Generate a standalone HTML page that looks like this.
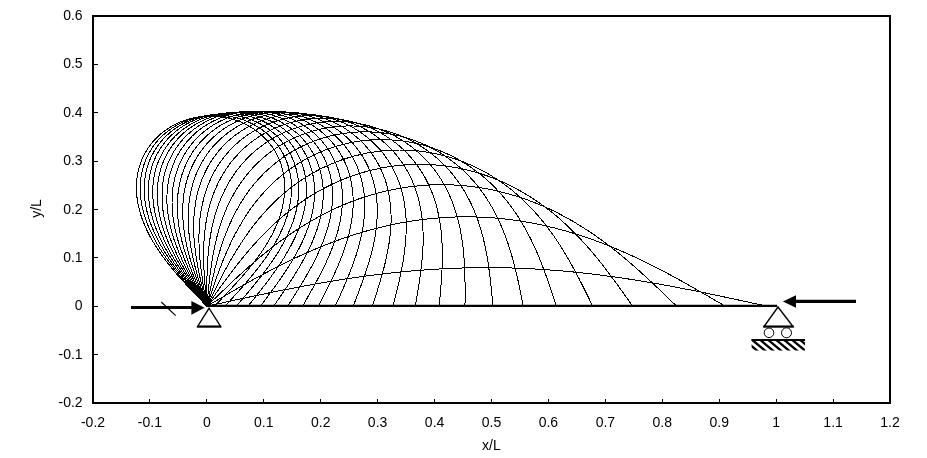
<!DOCTYPE html>
<html><head><meta charset="utf-8"><title>Elastica</title>
<style>
html,body{margin:0;padding:0;background:#fff}
svg{display:block}
text{font-family:"Liberation Sans",Arial,sans-serif;font-size:14px;fill:#000}
</style></head>
<body>
<svg width="927" height="458" viewBox="0 0 927 458">
<rect width="927" height="458" fill="#fff"/>
<defs>
<clipPath id="hc"><rect x="751.6" y="339" width="53.4" height="11.6"/></clipPath>
</defs>
<g fill="none" stroke="#000" stroke-width="1" stroke-linejoin="round" stroke-linecap="square" shape-rendering="crispEdges">
<polyline points="206.9,306.2 210.3,305.5 213.7,304.7 217.2,304.0 220.6,303.2 224.1,302.5 227.5,301.7 231.0,301.0 234.4,300.2 237.9,299.5 241.3,298.8 244.8,298.0 248.2,297.3 251.7,296.5 255.1,295.8 258.6,295.1 262.0,294.4 265.5,293.7 269.0,292.9 272.4,292.2 275.9,291.5 279.3,290.8 282.8,290.1 286.3,289.5 289.7,288.8 293.2,288.1 296.7,287.5 300.2,286.8 303.6,286.1 307.1,285.5 310.6,284.9 314.1,284.2 317.5,283.6 321.0,283.0 324.5,282.4 328.0,281.8 331.5,281.2 335.0,280.7 338.5,280.1 342.0,279.6 345.5,279.0 349.0,278.5 352.5,278.0 356.0,277.5 359.5,277.0 363.0,276.5 366.5,276.0 370.1,275.5 373.6,275.1 377.1,274.6 380.6,274.2 384.1,273.8 387.7,273.4 391.2,273.0 394.7,272.6 398.3,272.2 401.8,271.9 405.3,271.6 408.9,271.2 412.4,270.9 415.9,270.6 419.5,270.3 423.0,270.1 426.6,269.8 430.1,269.6 433.7,269.3 437.2,269.1 440.8,268.9 444.3,268.7 447.9,268.6 451.4,268.4 455.0,268.3 458.5,268.1 462.1,268.0 465.6,267.9 469.2,267.8 472.8,267.8 476.3,267.7 479.9,267.7 483.4,267.7 487.0,267.7 490.5,267.7 494.1,267.7 497.7,267.7 501.2,267.8 504.8,267.8 508.3,267.9 511.9,268.0 515.4,268.1 519.0,268.3 522.6,268.4 526.1,268.6 529.7,268.7 533.2,268.9 536.8,269.1 540.3,269.3 543.9,269.6 547.4,269.8 550.9,270.1 554.5,270.3 558.0,270.6 561.6,270.9 565.1,271.2 568.7,271.6 572.2,271.9 575.7,272.2 579.3,272.6 582.8,273.0 586.3,273.4 589.8,273.8 593.4,274.2 596.9,274.6 600.4,275.1 603.9,275.5 607.4,276.0 610.9,276.5 614.5,277.0 618.0,277.5 621.5,278.0 625.0,278.5 628.5,279.0 632.0,279.6 635.5,280.1 639.0,280.7 642.5,281.2 646.0,281.8 649.5,282.4 652.9,283.0 656.4,283.6 659.9,284.2 663.4,284.9 666.9,285.5 670.3,286.1 673.8,286.8 677.3,287.5 680.8,288.1 684.2,288.8 687.7,289.5 691.2,290.1 694.6,290.8 698.1,291.5 701.6,292.2 705.0,292.9 708.5,293.7 711.9,294.4 715.4,295.1 718.8,295.8 722.3,296.5 725.7,297.3 729.2,298.0 732.6,298.8 736.1,299.5 739.5,300.2 743.0,301.0 746.4,301.7 749.9,302.5 753.3,303.2 756.8,304.0 760.2,304.7 763.7,305.5 767.1,306.3"/>
<polyline points="206.9,306.2 209.8,304.5 212.7,302.8 215.6,301.1 218.6,299.4 221.5,297.7 224.5,296.0 227.4,294.3 230.3,292.6 233.3,290.9 236.2,289.2 239.2,287.5 242.1,285.8 245.1,284.2 248.1,282.5 251.1,280.8 254.0,279.2 257.0,277.6 260.0,275.9 263.0,274.3 266.1,272.7 269.1,271.1 272.1,269.5 275.2,268.0 278.2,266.4 281.3,264.9 284.3,263.3 287.4,261.8 290.5,260.3 293.6,258.8 296.7,257.4 299.8,255.9 303.0,254.5 306.1,253.1 309.3,251.7 312.4,250.3 315.6,249.0 318.8,247.6 322.0,246.3 325.2,245.0 328.5,243.8 331.7,242.5 335.0,241.3 338.2,240.1 341.5,238.9 344.8,237.8 348.1,236.7 351.4,235.6 354.8,234.5 358.1,233.5 361.5,232.4 364.8,231.5 368.2,230.5 371.6,229.6 375.0,228.7 378.4,227.8 381.8,227.0 385.2,226.2 388.7,225.4 392.1,224.6 395.6,223.9 399.0,223.2 402.5,222.6 406.0,222.0 409.5,221.4 413.0,220.9 416.5,220.3 420.0,219.9 423.5,219.4 427.1,219.0 430.6,218.6 434.1,218.3 437.7,218.0 441.2,217.7 444.8,217.5 448.3,217.3 451.9,217.1 455.4,217.0 459.0,216.9 462.5,216.9 466.1,216.8 469.6,216.9 473.2,216.9 476.8,217.0 480.3,217.1 483.9,217.3 487.4,217.5 491.0,217.7 494.5,218.0 498.1,218.3 501.6,218.6 505.1,219.0 508.6,219.4 512.2,219.9 515.7,220.3 519.2,220.9 522.7,221.4 526.2,222.0 529.7,222.6 533.1,223.2 536.6,223.9 540.1,224.6 543.5,225.4 546.9,226.2 550.4,227.0 553.8,227.8 557.2,228.7 560.6,229.6 564.0,230.5 567.4,231.5 570.7,232.4 574.1,233.5 577.4,234.5 580.7,235.6 584.1,236.7 587.4,237.8 590.7,238.9 593.9,240.1 597.2,241.3 600.5,242.5 603.7,243.8 606.9,245.0 610.1,246.3 613.4,247.6 616.5,249.0 619.7,250.3 622.9,251.7 626.1,253.1 629.2,254.5 632.3,255.9 635.5,257.4 638.6,258.8 641.7,260.3 644.8,261.8 647.8,263.3 650.9,264.9 654.0,266.4 657.0,268.0 660.1,269.5 663.1,271.1 666.1,272.7 669.1,274.3 672.1,275.9 675.1,277.6 678.1,279.2 681.1,280.8 684.1,282.5 687.1,284.2 690.0,285.8 693.0,287.5 695.9,289.2 698.9,290.9 701.8,292.6 704.8,294.3 707.7,296.0 710.7,297.7 713.6,299.4 716.5,301.1 719.5,302.8 722.4,304.5 725.3,306.3"/>
<polyline points="206.9,306.2 209.2,304.0 211.5,301.7 213.9,299.4 216.2,297.2 218.6,294.9 220.9,292.6 223.3,290.4 225.7,288.1 228.0,285.8 230.4,283.6 232.8,281.4 235.2,279.1 237.6,276.9 240.0,274.7 242.5,272.5 244.9,270.3 247.4,268.1 249.8,265.9 252.3,263.7 254.8,261.6 257.3,259.5 259.9,257.3 262.4,255.2 265.0,253.1 267.6,251.0 270.2,249.0 272.8,246.9 275.4,244.9 278.1,242.9 280.8,240.9 283.5,239.0 286.2,237.0 288.9,235.1 291.7,233.2 294.5,231.3 297.3,229.5 300.2,227.7 303.0,225.9 305.9,224.1 308.8,222.3 311.8,220.6 314.7,219.0 317.7,217.3 320.7,215.7 323.7,214.1 326.8,212.5 329.9,211.0 333.0,209.5 336.1,208.1 339.2,206.7 342.4,205.3 345.6,204.0 348.8,202.7 352.0,201.4 355.3,200.2 358.6,199.0 361.9,197.9 365.2,196.8 368.5,195.8 371.9,194.8 375.3,193.8 378.7,192.9 382.1,192.0 385.5,191.2 388.9,190.4 392.4,189.7 395.8,189.0 399.3,188.4 402.8,187.8 406.3,187.3 409.8,186.8 413.4,186.4 416.9,186.0 420.4,185.6 424.0,185.4 427.5,185.1 431.1,184.9 434.6,184.8 438.2,184.7 441.7,184.7 445.3,184.7 448.8,184.8 452.4,184.9 456.0,185.1 459.5,185.4 463.0,185.6 466.6,186.0 470.1,186.4 473.6,186.8 477.1,187.3 480.6,187.8 484.1,188.4 487.6,189.0 491.1,189.7 494.5,190.4 498.0,191.2 501.4,192.0 504.8,192.9 508.2,193.8 511.6,194.8 514.9,195.8 518.3,196.8 521.6,197.9 524.9,199.0 528.2,200.2 531.4,201.4 534.7,202.7 537.9,204.0 541.1,205.3 544.2,206.7 547.4,208.1 550.5,209.5 553.6,211.0 556.7,212.5 559.7,214.1 562.8,215.7 565.8,217.3 568.7,219.0 571.7,220.6 574.6,222.3 577.5,224.1 580.4,225.9 583.3,227.7 586.1,229.5 589.0,231.3 591.7,233.2 594.5,235.1 597.3,237.0 600.0,239.0 602.7,240.9 605.4,242.9 608.0,244.9 610.7,246.9 613.3,249.0 615.9,251.0 618.5,253.1 621.1,255.2 623.6,257.3 626.1,259.5 628.6,261.6 631.1,263.7 633.6,265.9 636.1,268.1 638.6,270.3 641.0,272.5 643.4,274.7 645.8,276.9 648.3,279.1 650.7,281.4 653.0,283.6 655.4,285.8 657.8,288.1 660.2,290.4 662.5,292.6 664.9,294.9 667.2,297.2 669.6,299.4 671.9,301.7 674.3,304.0 676.6,306.3"/>
<polyline points="206.9,306.2 208.7,303.7 210.5,301.1 212.3,298.5 214.2,295.9 216.0,293.3 217.8,290.7 219.7,288.1 221.6,285.5 223.4,283.0 225.3,280.4 227.2,277.8 229.1,275.3 231.0,272.7 232.9,270.2 234.9,267.7 236.8,265.1 238.8,262.6 240.8,260.1 242.8,257.6 244.9,255.1 246.9,252.7 249.0,250.2 251.1,247.8 253.2,245.4 255.4,243.0 257.6,240.6 259.8,238.2 262.0,235.9 264.3,233.5 266.6,231.2 268.9,228.9 271.3,226.7 273.7,224.4 276.1,222.2 278.5,220.0 281.0,217.8 283.5,215.7 286.1,213.6 288.6,211.5 291.3,209.5 293.9,207.4 296.6,205.4 299.3,203.5 302.1,201.6 304.8,199.7 307.7,197.9 310.5,196.0 313.4,194.3 316.3,192.6 319.3,190.9 322.3,189.2 325.3,187.6 328.3,186.1 331.4,184.6 334.5,183.1 337.7,181.7 340.8,180.3 344.1,179.0 347.3,177.7 350.5,176.5 353.8,175.4 357.1,174.3 360.5,173.2 363.8,172.2 367.2,171.3 370.6,170.4 374.0,169.6 377.5,168.8 380.9,168.1 384.4,167.4 387.9,166.9 391.4,166.3 394.9,165.9 398.5,165.5 402.0,165.1 405.5,164.8 409.1,164.6 412.6,164.5 416.2,164.4 419.7,164.3 423.3,164.4 426.9,164.5 430.4,164.6 434.0,164.8 437.5,165.1 441.0,165.5 444.6,165.9 448.1,166.3 451.6,166.9 455.1,167.4 458.6,168.1 462.0,168.8 465.5,169.6 468.9,170.4 472.3,171.3 475.7,172.2 479.0,173.2 482.4,174.3 485.7,175.4 489.0,176.5 492.2,177.7 495.4,179.0 498.6,180.3 501.8,181.7 505.0,183.1 508.1,184.6 511.2,186.1 514.2,187.6 517.2,189.2 520.2,190.9 523.2,192.6 526.1,194.3 529.0,196.0 531.8,197.9 534.7,199.7 537.4,201.6 540.2,203.5 542.9,205.4 545.6,207.4 548.2,209.5 550.9,211.5 553.4,213.6 556.0,215.7 558.5,217.8 561.0,220.0 563.4,222.2 565.8,224.4 568.2,226.7 570.6,228.9 572.9,231.2 575.2,233.5 577.5,235.9 579.7,238.2 581.9,240.6 584.1,243.0 586.2,245.4 588.4,247.8 590.5,250.2 592.6,252.7 594.6,255.1 596.7,257.6 598.7,260.1 600.7,262.6 602.7,265.1 604.6,267.7 606.6,270.2 608.5,272.7 610.4,275.3 612.3,277.8 614.2,280.4 616.1,283.0 617.9,285.5 619.8,288.1 621.6,290.7 623.5,293.3 625.3,295.9 627.2,298.5 629.0,301.1 630.8,303.7 632.6,306.3"/>
<polyline points="206.9,306.2 208.2,303.5 209.6,300.7 211.0,297.9 212.3,295.1 213.7,292.3 215.1,289.5 216.5,286.7 217.9,284.0 219.3,281.2 220.8,278.4 222.2,275.7 223.7,272.9 225.1,270.1 226.6,267.4 228.1,264.7 229.7,261.9 231.2,259.2 232.8,256.5 234.4,253.8 236.0,251.1 237.7,248.4 239.4,245.8 241.1,243.1 242.8,240.5 244.6,237.9 246.4,235.3 248.2,232.7 250.1,230.1 252.0,227.5 253.9,225.0 255.9,222.5 257.9,220.0 260.0,217.5 262.1,215.1 264.2,212.7 266.4,210.3 268.6,207.9 270.9,205.6 273.2,203.3 275.5,201.0 277.9,198.7 280.3,196.5 282.8,194.4 285.3,192.2 287.8,190.1 290.4,188.0 293.1,186.0 295.8,184.0 298.5,182.1 301.3,180.2 304.1,178.4 306.9,176.6 309.8,174.8 312.8,173.1 315.8,171.4 318.8,169.8 321.8,168.3 324.9,166.8 328.1,165.4 331.2,164.0 334.4,162.7 337.7,161.4 340.9,160.2 344.2,159.1 347.6,158.0 350.9,157.0 354.3,156.0 357.7,155.2 361.1,154.4 364.6,153.6 368.0,152.9 371.5,152.3 375.0,151.8 378.5,151.3 382.1,150.9 385.6,150.6 389.2,150.4 392.7,150.2 396.3,150.1 399.8,150.0 403.4,150.1 406.9,150.2 410.5,150.4 414.0,150.6 417.6,150.9 421.1,151.3 424.6,151.8 428.1,152.3 431.6,152.9 435.1,153.6 438.5,154.4 441.9,155.2 445.3,156.0 448.7,157.0 452.1,158.0 455.4,159.1 458.7,160.2 462.0,161.4 465.2,162.7 468.4,164.0 471.6,165.4 474.7,166.8 477.8,168.3 480.9,169.8 483.9,171.4 486.9,173.1 489.8,174.8 492.7,176.6 495.5,178.4 498.4,180.2 501.1,182.1 503.9,184.0 506.6,186.0 509.2,188.0 511.8,190.1 514.3,192.2 516.9,194.4 519.3,196.5 521.8,198.7 524.1,201.0 526.5,203.3 528.8,205.6 531.0,207.9 533.3,210.3 535.4,212.7 537.6,215.1 539.6,217.5 541.7,220.0 543.7,222.5 545.7,225.0 547.6,227.5 549.5,230.1 551.4,232.7 553.3,235.3 555.1,237.9 556.8,240.5 558.6,243.1 560.3,245.8 562.0,248.4 563.6,251.1 565.2,253.8 566.8,256.5 568.4,259.2 570.0,261.9 571.5,264.7 573.0,267.4 574.5,270.1 576.0,272.9 577.4,275.7 578.9,278.4 580.3,281.2 581.7,284.0 583.1,286.7 584.5,289.5 585.9,292.3 587.3,295.1 588.7,297.9 590.0,300.7 591.4,303.5 592.8,306.3"/>
<polyline points="206.9,306.2 207.8,303.3 208.8,300.4 209.7,297.5 210.7,294.6 211.7,291.7 212.7,288.8 213.7,285.9 214.7,283.0 215.7,280.1 216.7,277.2 217.8,274.3 218.8,271.4 219.9,268.5 221.0,265.7 222.1,262.8 223.3,259.9 224.5,257.1 225.7,254.2 226.9,251.4 228.1,248.6 229.4,245.8 230.7,242.9 232.1,240.1 233.5,237.4 234.9,234.6 236.4,231.8 237.9,229.1 239.4,226.4 241.0,223.7 242.6,221.0 244.3,218.3 246.0,215.6 247.7,213.0 249.5,210.4 251.3,207.8 253.2,205.2 255.2,202.7 257.2,200.2 259.2,197.7 261.3,195.3 263.4,192.9 265.6,190.5 267.9,188.1 270.1,185.8 272.5,183.5 274.9,181.3 277.3,179.1 279.8,177.0 282.4,174.8 285.0,172.8 287.6,170.8 290.3,168.8 293.1,166.9 295.9,165.0 298.7,163.2 301.6,161.5 304.6,159.8 307.6,158.1 310.6,156.5 313.7,155.0 316.8,153.6 320.0,152.2 323.2,150.9 326.4,149.6 329.7,148.4 333.0,147.3 336.3,146.3 339.7,145.3 343.1,144.4 346.5,143.6 350.0,142.8 353.4,142.1 356.9,141.6 360.4,141.0 363.9,140.6 367.5,140.2 371.0,140.0 374.6,139.8 378.1,139.6 381.7,139.6 385.2,139.6 388.8,139.8 392.3,140.0 395.9,140.2 399.4,140.6 402.9,141.0 406.4,141.6 409.9,142.1 413.4,142.8 416.8,143.6 420.3,144.4 423.7,145.3 427.0,146.3 430.4,147.3 433.7,148.4 437.0,149.6 440.2,150.9 443.4,152.2 446.6,153.6 449.7,155.0 452.7,156.5 455.8,158.1 458.8,159.8 461.7,161.5 464.6,163.2 467.5,165.0 470.3,166.9 473.0,168.8 475.7,170.8 478.4,172.8 481.0,174.8 483.5,177.0 486.0,179.1 488.5,181.3 490.9,183.5 493.2,185.8 495.5,188.1 497.7,190.5 499.9,192.9 502.1,195.3 504.1,197.7 506.2,200.2 508.2,202.7 510.1,205.2 512.0,207.8 513.8,210.4 515.6,213.0 517.4,215.6 519.1,218.3 520.8,221.0 522.4,223.7 524.0,226.4 525.5,229.1 527.0,231.8 528.4,234.6 529.9,237.4 531.3,240.1 532.6,242.9 533.9,245.8 535.2,248.6 536.5,251.4 537.7,254.2 538.9,257.1 540.1,259.9 541.2,262.8 542.3,265.7 543.4,268.5 544.5,271.4 545.6,274.3 546.6,277.2 547.7,280.1 548.7,283.0 549.7,285.9 550.7,288.8 551.7,291.7 552.6,294.6 553.6,297.5 554.6,300.4 555.5,303.3 556.5,306.3"/>
<polyline points="206.9,306.2 207.5,303.3 208.1,300.3 208.7,297.3 209.3,294.3 209.9,291.4 210.5,288.4 211.1,285.4 211.8,282.4 212.4,279.5 213.1,276.5 213.8,273.5 214.5,270.6 215.2,267.6 216.0,264.6 216.8,261.7 217.6,258.7 218.4,255.8 219.3,252.9 220.2,249.9 221.1,247.0 222.0,244.1 223.0,241.2 224.0,238.3 225.1,235.4 226.2,232.6 227.4,229.7 228.5,226.8 229.8,224.0 231.1,221.2 232.4,218.4 233.8,215.6 235.2,212.8 236.6,210.1 238.2,207.3 239.7,204.6 241.4,201.9 243.1,199.3 244.8,196.6 246.6,194.0 248.4,191.4 250.3,188.9 252.3,186.4 254.3,183.9 256.4,181.4 258.6,179.0 260.8,176.6 263.0,174.3 265.3,172.0 267.7,169.8 270.2,167.6 272.7,165.4 275.2,163.3 277.8,161.3 280.5,159.3 283.2,157.3 286.0,155.4 288.8,153.6 291.7,151.8 294.7,150.1 297.7,148.5 300.7,146.9 303.8,145.4 306.9,144.0 310.1,142.7 313.3,141.4 316.6,140.2 319.9,139.0 323.2,138.0 326.6,137.0 330.0,136.1 333.4,135.3 336.9,134.6 340.4,133.9 343.9,133.4 347.4,132.9 350.9,132.5 354.4,132.2 358.0,132.0 361.5,131.8 365.1,131.8 368.7,131.8 372.2,132.0 375.8,132.2 379.3,132.5 382.8,132.9 386.3,133.4 389.8,133.9 393.3,134.6 396.8,135.3 400.2,136.1 403.6,137.0 407.0,138.0 410.3,139.0 413.6,140.2 416.9,141.4 420.1,142.7 423.3,144.0 426.4,145.4 429.5,146.9 432.5,148.5 435.5,150.1 438.5,151.8 441.3,153.6 444.2,155.4 447.0,157.3 449.7,159.3 452.4,161.3 455.0,163.3 457.5,165.4 460.0,167.6 462.5,169.8 464.8,172.0 467.2,174.3 469.4,176.6 471.6,179.0 473.8,181.4 475.9,183.9 477.9,186.4 479.8,188.9 481.8,191.4 483.6,194.0 485.4,196.6 487.1,199.3 488.8,201.9 490.4,204.6 492.0,207.3 493.5,210.1 495.0,212.8 496.4,215.6 497.8,218.4 499.1,221.2 500.4,224.0 501.6,226.8 502.8,229.7 504.0,232.6 505.1,235.4 506.1,238.3 507.2,241.2 508.2,244.1 509.1,247.0 510.0,249.9 510.9,252.9 511.8,255.8 512.6,258.7 513.4,261.7 514.2,264.6 514.9,267.6 515.7,270.6 516.4,273.5 517.1,276.5 517.8,279.5 518.4,282.4 519.1,285.4 519.7,288.4 520.3,291.4 520.9,294.3 521.5,297.3 522.1,300.3 522.7,303.3 523.3,306.3"/>
<polyline points="206.9,306.2 207.1,303.2 207.4,300.2 207.7,297.2 208.0,294.2 208.3,291.2 208.6,288.2 208.9,285.2 209.2,282.1 209.5,279.1 209.9,276.1 210.2,273.1 210.6,270.1 211.1,267.1 211.5,264.1 212.0,261.1 212.4,258.1 213.0,255.1 213.5,252.1 214.1,249.2 214.7,246.2 215.4,243.2 216.1,240.2 216.8,237.3 217.6,234.3 218.4,231.4 219.2,228.5 220.2,225.5 221.1,222.6 222.1,219.7 223.2,216.8 224.3,214.0 225.4,211.1 226.6,208.3 227.9,205.4 229.2,202.6 230.6,199.8 232.1,197.1 233.6,194.3 235.1,191.6 236.8,188.9 238.5,186.3 240.2,183.7 242.0,181.1 243.9,178.5 245.9,176.0 247.9,173.5 250.0,171.0 252.1,168.6 254.4,166.3 256.7,163.9 259.0,161.7 261.4,159.5 263.9,157.3 266.4,155.2 269.1,153.1 271.7,151.1 274.5,149.2 277.3,147.3 280.1,145.5 283.0,143.8 286.0,142.1 289.0,140.5 292.1,139.0 295.2,137.5 298.4,136.2 301.6,134.9 304.9,133.7 308.2,132.5 311.5,131.5 314.9,130.5 318.3,129.7 321.7,128.9 325.2,128.2 328.7,127.6 332.2,127.1 335.7,126.7 339.2,126.3 342.8,126.1 346.3,126.0 349.9,125.9 353.4,126.0 357.0,126.1 360.5,126.3 364.1,126.7 367.6,127.1 371.1,127.6 374.6,128.2 378.1,128.9 381.5,129.7 384.9,130.5 388.3,131.5 391.6,132.5 394.9,133.7 398.2,134.9 401.4,136.2 404.6,137.5 407.7,139.0 410.8,140.5 413.8,142.1 416.8,143.8 419.7,145.5 422.5,147.3 425.3,149.2 428.1,151.1 430.7,153.1 433.3,155.2 435.9,157.3 438.4,159.5 440.8,161.7 443.1,163.9 445.4,166.3 447.6,168.6 449.8,171.0 451.9,173.5 453.9,176.0 455.8,178.5 457.7,181.1 459.6,183.7 461.3,186.3 463.0,188.9 464.6,191.6 466.2,194.3 467.7,197.1 469.2,199.8 470.5,202.6 471.9,205.4 473.1,208.3 474.4,211.1 475.5,214.0 476.6,216.8 477.7,219.7 478.7,222.6 479.6,225.5 480.5,228.5 481.4,231.4 482.2,234.3 483.0,237.3 483.7,240.2 484.4,243.2 485.1,246.2 485.7,249.2 486.3,252.1 486.8,255.1 487.3,258.1 487.8,261.1 488.3,264.1 488.7,267.1 489.1,270.1 489.5,273.1 489.9,276.1 490.3,279.1 490.6,282.1 490.9,285.2 491.2,288.2 491.5,291.2 491.8,294.2 492.1,297.2 492.4,300.2 492.7,303.2 492.9,306.3"/>
<polyline points="206.9,306.2 206.8,303.2 206.8,300.2 206.8,297.2 206.8,294.2 206.8,291.1 206.8,288.1 206.8,285.1 206.9,282.1 206.9,279.0 207.0,276.0 207.0,273.0 207.2,270.0 207.3,267.0 207.4,263.9 207.6,260.9 207.8,257.9 208.1,254.9 208.3,251.9 208.6,248.8 209.0,245.8 209.4,242.8 209.8,239.8 210.3,236.8 210.8,233.8 211.3,230.9 211.9,227.9 212.6,224.9 213.3,221.9 214.0,219.0 214.8,216.0 215.7,213.1 216.6,210.2 217.6,207.3 218.6,204.4 219.7,201.5 220.9,198.6 222.1,195.8 223.4,193.0 224.7,190.2 226.2,187.4 227.6,184.7 229.2,182.0 230.8,179.3 232.5,176.6 234.3,174.0 236.2,171.4 238.1,168.9 240.1,166.4 242.1,163.9 244.3,161.5 246.5,159.1 248.8,156.8 251.1,154.5 253.6,152.3 256.1,150.2 258.6,148.1 261.3,146.1 264.0,144.1 266.7,142.2 269.6,140.4 272.5,138.6 275.4,136.9 278.4,135.3 281.5,133.8 284.6,132.3 287.8,131.0 291.0,129.7 294.3,128.5 297.6,127.4 301.0,126.4 304.3,125.4 307.8,124.6 311.2,123.9 314.7,123.2 318.2,122.7 321.7,122.3 325.2,121.9 328.8,121.7 332.3,121.5 335.9,121.5 339.5,121.5 343.0,121.7 346.6,121.9 350.1,122.3 353.6,122.7 357.1,123.2 360.6,123.9 364.0,124.6 367.5,125.4 370.8,126.4 374.2,127.4 377.5,128.5 380.8,129.7 384.0,131.0 387.2,132.3 390.3,133.8 393.4,135.3 396.4,136.9 399.3,138.6 402.2,140.4 405.1,142.2 407.8,144.1 410.5,146.1 413.2,148.1 415.7,150.2 418.2,152.3 420.7,154.5 423.0,156.8 425.3,159.1 427.5,161.5 429.7,163.9 431.7,166.4 433.7,168.9 435.6,171.4 437.5,174.0 439.3,176.6 441.0,179.3 442.6,182.0 444.2,184.7 445.7,187.4 447.1,190.2 448.4,193.0 449.7,195.8 450.9,198.6 452.1,201.5 453.2,204.4 454.2,207.3 455.2,210.2 456.1,213.1 457.0,216.0 457.8,219.0 458.5,221.9 459.2,224.9 459.9,227.9 460.5,230.9 461.0,233.8 461.6,236.8 462.0,239.8 462.4,242.8 462.8,245.8 463.2,248.8 463.5,251.9 463.7,254.9 464.0,257.9 464.2,260.9 464.4,263.9 464.5,267.0 464.6,270.0 464.8,273.0 464.8,276.0 464.9,279.0 465.0,282.1 465.0,285.1 465.0,288.1 465.0,291.1 465.0,294.2 465.0,297.2 465.0,300.2 465.0,303.2 464.9,306.3"/>
<polyline points="206.9,306.2 206.6,303.2 206.3,300.2 206.0,297.2 205.7,294.2 205.5,291.2 205.2,288.2 205.0,285.1 204.7,282.1 204.5,279.1 204.3,276.1 204.2,273.1 204.0,270.1 203.9,267.0 203.8,264.0 203.7,261.0 203.7,258.0 203.6,254.9 203.7,251.9 203.7,248.9 203.8,245.9 203.9,242.8 204.1,239.8 204.3,236.8 204.6,233.8 204.9,230.8 205.3,227.8 205.7,224.8 206.1,221.8 206.6,218.8 207.2,215.8 207.8,212.8 208.5,209.9 209.3,206.9 210.1,204.0 211.0,201.0 212.0,198.1 213.0,195.2 214.1,192.3 215.2,189.5 216.5,186.7 217.8,183.8 219.1,181.1 220.6,178.3 222.1,175.6 223.7,172.9 225.4,170.2 227.2,167.6 229.0,165.0 230.9,162.4 232.9,159.9 235.0,157.5 237.2,155.1 239.4,152.7 241.7,150.4 244.1,148.2 246.6,146.0 249.1,143.9 251.7,141.9 254.4,139.9 257.2,138.0 260.0,136.1 262.9,134.4 265.8,132.7 268.9,131.1 271.9,129.5 275.1,128.1 278.3,126.8 281.5,125.5 284.8,124.4 288.1,123.3 291.5,122.3 294.9,121.4 298.3,120.7 301.8,120.0 305.3,119.4 308.8,119.0 312.3,118.6 315.9,118.3 319.4,118.2 323.0,118.1 326.5,118.2 330.1,118.3 333.6,118.6 337.2,119.0 340.7,119.4 344.2,120.0 347.7,120.7 351.1,121.4 354.5,122.3 357.9,123.3 361.2,124.4 364.5,125.5 367.7,126.8 370.9,128.1 374.0,129.5 377.1,131.1 380.1,132.7 383.1,134.4 386.0,136.1 388.8,138.0 391.6,139.9 394.2,141.9 396.9,143.9 399.4,146.0 401.9,148.2 404.3,150.4 406.6,152.7 408.8,155.1 411.0,157.5 413.0,159.9 415.0,162.4 417.0,165.0 418.8,167.6 420.6,170.2 422.2,172.9 423.9,175.6 425.4,178.3 426.8,181.1 428.2,183.8 429.5,186.7 430.8,189.5 431.9,192.3 433.0,195.2 434.0,198.1 435.0,201.0 435.9,204.0 436.7,206.9 437.4,209.9 438.1,212.8 438.8,215.8 439.3,218.8 439.9,221.8 440.3,224.8 440.7,227.8 441.1,230.8 441.4,233.8 441.7,236.8 441.9,239.8 442.0,242.8 442.2,245.9 442.3,248.9 442.3,251.9 442.3,254.9 442.3,258.0 442.3,261.0 442.2,264.0 442.1,267.0 442.0,270.1 441.8,273.1 441.6,276.1 441.4,279.1 441.2,282.1 441.0,285.1 440.8,288.2 440.5,291.2 440.2,294.2 440.0,297.2 439.7,300.2 439.4,303.2 439.1,306.3"/>
<polyline points="206.9,306.2 206.3,303.3 205.8,300.3 205.3,297.3 204.8,294.3 204.3,291.3 203.8,288.3 203.3,285.3 202.8,282.3 202.4,279.3 202.0,276.3 201.6,273.3 201.2,270.3 200.8,267.3 200.5,264.3 200.1,261.3 199.9,258.3 199.6,255.2 199.4,252.2 199.2,249.2 199.1,246.2 199.0,243.2 198.9,240.1 198.9,237.1 199.0,234.1 199.1,231.1 199.2,228.0 199.4,225.0 199.6,222.0 199.9,219.0 200.3,216.0 200.7,213.0 201.2,210.0 201.8,207.0 202.4,204.0 203.1,201.1 203.8,198.1 204.6,195.2 205.5,192.2 206.5,189.3 207.6,186.4 208.7,183.6 209.9,180.7 211.2,177.9 212.6,175.1 214.0,172.4 215.5,169.6 217.2,166.9 218.9,164.3 220.6,161.7 222.5,159.1 224.5,156.6 226.5,154.1 228.6,151.7 230.8,149.3 233.1,147.0 235.5,144.7 237.9,142.5 240.4,140.4 243.1,138.3 245.7,136.3 248.5,134.4 251.3,132.6 254.2,130.8 257.2,129.2 260.2,127.6 263.3,126.1 266.5,124.7 269.7,123.4 272.9,122.2 276.2,121.1 279.6,120.0 283.0,119.1 286.4,118.3 289.9,117.6 293.3,117.0 296.9,116.5 300.4,116.1 303.9,115.9 307.5,115.7 311.0,115.6 314.6,115.7 318.1,115.9 321.7,116.1 325.2,116.5 328.7,117.0 332.2,117.6 335.7,118.3 339.1,119.1 342.5,120.0 345.8,121.1 349.2,122.2 352.4,123.4 355.6,124.7 358.8,126.1 361.9,127.6 364.9,129.2 367.9,130.8 370.8,132.6 373.6,134.4 376.3,136.3 379.0,138.3 381.6,140.4 384.2,142.5 386.6,144.7 389.0,147.0 391.3,149.3 393.5,151.7 395.6,154.1 397.6,156.6 399.6,159.1 401.4,161.7 403.2,164.3 404.9,166.9 406.5,169.6 408.1,172.4 409.5,175.1 410.9,177.9 412.2,180.7 413.4,183.6 414.5,186.4 415.6,189.3 416.5,192.2 417.4,195.2 418.3,198.1 419.0,201.1 419.7,204.0 420.3,207.0 420.9,210.0 421.4,213.0 421.8,216.0 422.1,219.0 422.4,222.0 422.7,225.0 422.9,228.0 423.0,231.1 423.1,234.1 423.1,237.1 423.1,240.1 423.1,243.2 423.0,246.2 422.8,249.2 422.7,252.2 422.5,255.2 422.2,258.3 421.9,261.3 421.6,264.3 421.3,267.3 420.9,270.3 420.5,273.3 420.1,276.3 419.7,279.3 419.2,282.3 418.8,285.3 418.3,288.3 417.8,291.3 417.3,294.3 416.8,297.3 416.3,300.3 415.7,303.3 415.2,306.3"/>
<polyline points="206.9,306.2 206.1,303.3 205.4,300.3 204.6,297.4 203.9,294.4 203.2,291.5 202.5,288.5 201.8,285.5 201.1,282.6 200.5,279.6 199.8,276.6 199.2,273.6 198.6,270.7 198.0,267.7 197.4,264.7 196.9,261.7 196.4,258.7 196.0,255.7 195.5,252.7 195.2,249.7 194.8,246.7 194.5,243.7 194.2,240.7 194.0,237.6 193.9,234.6 193.7,231.6 193.7,228.6 193.7,225.6 193.7,222.5 193.8,219.5 194.0,216.5 194.2,213.5 194.5,210.5 194.9,207.5 195.3,204.5 195.8,201.5 196.4,198.5 197.0,195.5 197.7,192.5 198.5,189.6 199.4,186.7 200.4,183.8 201.4,180.9 202.5,178.0 203.8,175.2 205.1,172.3 206.4,169.6 207.9,166.8 209.5,164.1 211.1,161.4 212.9,158.8 214.7,156.2 216.6,153.6 218.6,151.1 220.7,148.7 222.9,146.3 225.2,144.0 227.5,141.7 230.0,139.5 232.5,137.4 235.1,135.4 237.8,133.4 240.6,131.5 243.4,129.7 246.4,127.9 249.3,126.3 252.4,124.7 255.5,123.3 258.7,121.9 261.9,120.6 265.2,119.5 268.5,118.4 271.9,117.5 275.3,116.6 278.8,115.9 282.3,115.3 285.8,114.8 289.3,114.4 292.8,114.1 296.4,113.9 299.9,113.8 303.5,113.9 307.1,114.1 310.6,114.4 314.1,114.8 317.6,115.3 321.1,115.9 324.6,116.6 328.0,117.5 331.4,118.4 334.7,119.5 338.0,120.6 341.2,121.9 344.4,123.3 347.5,124.7 350.6,126.3 353.5,127.9 356.5,129.7 359.3,131.5 362.1,133.4 364.8,135.4 367.4,137.4 369.9,139.5 372.3,141.7 374.7,144.0 377.0,146.3 379.2,148.7 381.3,151.1 383.3,153.6 385.2,156.2 387.0,158.8 388.8,161.4 390.4,164.1 392.0,166.8 393.5,169.6 394.8,172.3 396.1,175.2 397.4,178.0 398.5,180.9 399.5,183.8 400.5,186.7 401.4,189.6 402.2,192.5 402.9,195.5 403.5,198.5 404.1,201.5 404.6,204.5 405.0,207.5 405.4,210.5 405.7,213.5 405.9,216.5 406.1,219.5 406.2,222.5 406.2,225.6 406.2,228.6 406.2,231.6 406.0,234.6 405.9,237.6 405.7,240.7 405.4,243.7 405.1,246.7 404.7,249.7 404.4,252.7 403.9,255.7 403.5,258.7 403.0,261.7 402.5,264.7 401.9,267.7 401.3,270.7 400.7,273.6 400.1,276.6 399.4,279.6 398.8,282.6 398.1,285.5 397.4,288.5 396.7,291.5 396.0,294.4 395.2,297.4 394.5,300.3 393.8,303.3 393.0,306.3"/>
<polyline points="206.9,306.2 205.9,303.3 205.0,300.4 204.1,297.5 203.1,294.6 202.2,291.7 201.3,288.7 200.4,285.8 199.5,282.9 198.7,279.9 197.8,277.0 197.0,274.1 196.2,271.1 195.4,268.2 194.7,265.2 194.0,262.2 193.3,259.3 192.6,256.3 192.0,253.3 191.4,250.3 190.9,247.4 190.4,244.4 190.0,241.4 189.5,238.4 189.2,235.4 188.9,232.3 188.6,229.3 188.4,226.3 188.3,223.3 188.2,220.3 188.2,217.2 188.2,214.2 188.3,211.2 188.5,208.2 188.8,205.2 189.1,202.2 189.5,199.1 190.0,196.2 190.5,193.2 191.2,190.2 191.9,187.2 192.7,184.3 193.6,181.4 194.6,178.5 195.6,175.6 196.8,172.7 198.0,169.9 199.4,167.1 200.8,164.3 202.3,161.6 204.0,158.9 205.7,156.2 207.5,153.6 209.4,151.1 211.4,148.6 213.5,146.1 215.7,143.7 217.9,141.4 220.3,139.2 222.8,137.0 225.3,134.9 227.9,132.8 230.6,130.9 233.4,129.0 236.3,127.2 239.2,125.5 242.3,123.9 245.3,122.4 248.5,121.0 251.7,119.7 255.0,118.5 258.3,117.4 261.6,116.4 265.0,115.5 268.5,114.7 272.0,114.1 275.5,113.6 279.0,113.1 282.5,112.8 286.1,112.7 289.6,112.6 293.2,112.7 296.7,112.8 300.3,113.1 303.8,113.6 307.3,114.1 310.8,114.7 314.2,115.5 317.6,116.4 321.0,117.4 324.3,118.5 327.6,119.7 330.8,121.0 333.9,122.4 337.0,123.9 340.0,125.5 343.0,127.2 345.8,129.0 348.6,130.9 351.3,132.8 354.0,134.9 356.5,137.0 359.0,139.2 361.3,141.4 363.6,143.7 365.8,146.1 367.9,148.6 369.9,151.1 371.8,153.6 373.6,156.2 375.3,158.9 376.9,161.6 378.4,164.3 379.9,167.1 381.2,169.9 382.5,172.7 383.6,175.6 384.7,178.5 385.7,181.4 386.5,184.3 387.4,187.2 388.1,190.2 388.7,193.2 389.3,196.2 389.7,199.1 390.1,202.2 390.5,205.2 390.7,208.2 390.9,211.2 391.0,214.2 391.1,217.2 391.1,220.3 391.0,223.3 390.8,226.3 390.6,229.3 390.4,232.3 390.1,235.4 389.7,238.4 389.3,241.4 388.9,244.4 388.4,247.4 387.8,250.3 387.2,253.3 386.6,256.3 386.0,259.3 385.3,262.2 384.6,265.2 383.8,268.2 383.0,271.1 382.2,274.1 381.4,277.0 380.6,279.9 379.7,282.9 378.8,285.8 377.9,288.7 377.0,291.7 376.1,294.6 375.2,297.5 374.3,300.4 373.3,303.3 372.4,306.3"/>
<polyline points="206.9,306.2 205.7,303.4 204.6,300.5 203.5,297.6 202.4,294.8 201.3,291.9 200.2,289.0 199.2,286.1 198.1,283.2 197.1,280.3 196.1,277.4 195.1,274.5 194.1,271.6 193.1,268.7 192.2,265.8 191.3,262.9 190.4,259.9 189.6,257.0 188.8,254.1 188.0,251.1 187.3,248.1 186.7,245.2 186.0,242.2 185.4,239.2 184.9,236.2 184.4,233.2 184.0,230.2 183.6,227.2 183.3,224.2 183.1,221.2 182.9,218.2 182.8,215.2 182.7,212.1 182.7,209.1 182.8,206.1 183.0,203.1 183.2,200.0 183.5,197.0 183.9,194.0 184.4,191.0 185.0,188.1 185.6,185.1 186.4,182.1 187.2,179.2 188.1,176.3 189.2,173.4 190.3,170.5 191.5,167.7 192.8,164.8 194.2,162.1 195.7,159.3 197.3,156.6 199.0,154.0 200.8,151.4 202.7,148.8 204.7,146.3 206.8,143.9 209.0,141.5 211.3,139.2 213.7,136.9 216.1,134.8 218.7,132.7 221.4,130.6 224.1,128.7 226.9,126.9 229.8,125.1 232.8,123.5 235.8,121.9 239.0,120.5 242.2,119.1 245.4,117.9 248.7,116.7 252.0,115.7 255.4,114.8 258.9,114.0 262.3,113.3 265.8,112.8 269.4,112.4 272.9,112.1 276.4,111.9 280.0,111.8 283.6,111.9 287.1,112.1 290.7,112.4 294.2,112.8 297.7,113.3 301.1,114.0 304.6,114.8 308.0,115.7 311.3,116.7 314.6,117.9 317.9,119.1 321.0,120.5 324.2,121.9 327.2,123.5 330.2,125.1 333.1,126.9 335.9,128.7 338.7,130.6 341.3,132.7 343.9,134.8 346.3,136.9 348.7,139.2 351.0,141.5 353.2,143.9 355.3,146.3 357.3,148.8 359.2,151.4 361.0,154.0 362.7,156.6 364.3,159.3 365.8,162.1 367.2,164.8 368.5,167.7 369.7,170.5 370.8,173.4 371.9,176.3 372.8,179.2 373.6,182.1 374.4,185.1 375.0,188.1 375.6,191.0 376.1,194.0 376.5,197.0 376.8,200.0 377.0,203.1 377.2,206.1 377.3,209.1 377.3,212.1 377.3,215.2 377.1,218.2 376.9,221.2 376.7,224.2 376.4,227.2 376.0,230.2 375.6,233.2 375.1,236.2 374.6,239.2 374.0,242.2 373.4,245.2 372.7,248.1 372.0,251.1 371.2,254.1 370.4,257.0 369.6,259.9 368.7,262.9 367.8,265.8 366.9,268.7 365.9,271.6 365.0,274.5 364.0,277.4 362.9,280.3 361.9,283.2 360.8,286.1 359.8,289.0 358.7,291.9 357.6,294.8 356.5,297.6 355.4,300.5 354.3,303.4 353.2,306.3"/>
<polyline points="206.9,306.2 205.6,303.4 204.3,300.6 203.0,297.8 201.8,295.0 200.5,292.1 199.3,289.3 198.0,286.5 196.8,283.6 195.6,280.8 194.4,277.9 193.3,275.1 192.1,272.2 191.0,269.3 189.9,266.5 188.8,263.6 187.8,260.7 186.8,257.8 185.9,254.9 184.9,251.9 184.1,249.0 183.2,246.1 182.4,243.1 181.7,240.2 181.0,237.2 180.3,234.2 179.7,231.3 179.2,228.3 178.7,225.3 178.3,222.3 178.0,219.3 177.7,216.2 177.5,213.2 177.4,210.2 177.3,207.2 177.3,204.2 177.4,201.1 177.6,198.1 177.8,195.1 178.2,192.1 178.6,189.1 179.1,186.1 179.7,183.1 180.4,180.1 181.2,177.2 182.1,174.3 183.1,171.4 184.2,168.5 185.4,165.6 186.6,162.8 188.0,160.0 189.5,157.3 191.1,154.6 192.8,151.9 194.6,149.3 196.5,146.8 198.6,144.3 200.7,141.9 202.9,139.5 205.2,137.2 207.6,135.0 210.1,132.8 212.7,130.8 215.4,128.8 218.2,126.9 221.0,125.1 224.0,123.4 227.0,121.8 230.1,120.3 233.2,118.9 236.5,117.6 239.7,116.5 243.1,115.4 246.5,114.5 249.9,113.6 253.4,113.0 256.8,112.4 260.4,111.9 263.9,111.6 267.5,111.4 271.0,111.4 274.6,111.4 278.1,111.6 281.7,111.9 285.2,112.4 288.7,113.0 292.1,113.6 295.6,114.5 298.9,115.4 302.3,116.5 305.6,117.6 308.8,118.9 311.9,120.3 315.0,121.8 318.0,123.4 321.0,125.1 323.9,126.9 326.6,128.8 329.3,130.8 331.9,132.8 334.4,135.0 336.8,137.2 339.1,139.5 341.4,141.9 343.5,144.3 345.5,146.8 347.4,149.3 349.2,151.9 350.9,154.6 352.5,157.3 354.0,160.0 355.4,162.8 356.7,165.6 357.9,168.5 358.9,171.4 359.9,174.3 360.8,177.2 361.6,180.1 362.3,183.1 362.9,186.1 363.4,189.1 363.9,192.1 364.2,195.1 364.5,198.1 364.6,201.1 364.7,204.2 364.7,207.2 364.7,210.2 364.5,213.2 364.3,216.2 364.0,219.3 363.7,222.3 363.3,225.3 362.8,228.3 362.3,231.3 361.7,234.2 361.0,237.2 360.3,240.2 359.6,243.1 358.8,246.1 358.0,249.0 357.1,251.9 356.2,254.9 355.2,257.8 354.2,260.7 353.2,263.6 352.1,266.5 351.0,269.3 349.9,272.2 348.8,275.1 347.6,277.9 346.4,280.8 345.2,283.6 344.0,286.5 342.8,289.3 341.5,292.1 340.3,295.0 339.0,297.8 337.7,300.6 336.4,303.4 335.2,306.3"/>
<polyline points="206.9,306.2 205.4,303.5 204.0,300.7 202.6,297.9 201.2,295.2 199.8,292.4 198.4,289.6 197.0,286.8 195.6,284.0 194.3,281.2 192.9,278.4 191.6,275.6 190.3,272.8 189.0,270.0 187.8,267.1 186.6,264.3 185.4,261.5 184.3,258.6 183.2,255.7 182.1,252.8 181.0,249.9 180.1,247.0 179.1,244.1 178.2,241.2 177.4,238.3 176.6,235.3 175.8,232.4 175.2,229.4 174.5,226.4 174.0,223.4 173.5,220.4 173.0,217.4 172.7,214.4 172.4,211.4 172.2,208.4 172.1,205.4 172.0,202.3 172.0,199.3 172.2,196.3 172.4,193.3 172.6,190.3 173.0,187.3 173.5,184.3 174.1,181.3 174.7,178.3 175.5,175.4 176.4,172.4 177.4,169.5 178.4,166.6 179.6,163.8 180.9,161.0 182.3,158.2 183.8,155.4 185.4,152.7 187.1,150.1 188.9,147.5 190.9,145.0 192.9,142.5 195.0,140.1 197.3,137.7 199.6,135.5 202.1,133.3 204.6,131.1 207.3,129.1 210.0,127.2 212.8,125.3 215.7,123.6 218.7,121.9 221.8,120.4 224.9,119.0 228.1,117.7 231.4,116.5 234.7,115.4 238.1,114.4 241.5,113.6 244.9,112.9 248.4,112.3 251.9,111.8 255.5,111.5 259.0,111.3 262.6,111.2 266.1,111.3 269.7,111.5 273.2,111.8 276.7,112.3 280.2,112.9 283.7,113.6 287.1,114.4 290.5,115.4 293.8,116.5 297.1,117.7 300.3,119.0 303.4,120.4 306.5,121.9 309.5,123.6 312.4,125.3 315.2,127.2 317.9,129.1 320.6,131.1 323.1,133.3 325.5,135.5 327.9,137.7 330.1,140.1 332.3,142.5 334.3,145.0 336.2,147.5 338.1,150.1 339.8,152.7 341.4,155.4 342.9,158.2 344.3,161.0 345.6,163.8 346.7,166.6 347.8,169.5 348.8,172.4 349.7,175.4 350.4,178.3 351.1,181.3 351.7,184.3 352.1,187.3 352.5,190.3 352.8,193.3 353.0,196.3 353.1,199.3 353.2,202.3 353.1,205.4 353.0,208.4 352.8,211.4 352.5,214.4 352.1,217.4 351.7,220.4 351.2,223.4 350.6,226.4 350.0,229.4 349.3,232.4 348.6,235.3 347.8,238.3 347.0,241.2 346.1,244.1 345.1,247.0 344.1,249.9 343.1,252.8 342.0,255.7 340.9,258.6 339.8,261.5 338.6,264.3 337.4,267.1 336.1,270.0 334.9,272.8 333.6,275.6 332.3,278.4 330.9,281.2 329.6,284.0 328.2,286.8 326.8,289.6 325.4,292.4 324.0,295.2 322.6,297.9 321.2,300.7 319.7,303.5 318.3,306.3"/>
<polyline points="206.9,306.2 205.3,303.5 203.7,300.8 202.2,298.1 200.6,295.4 199.1,292.7 197.5,289.9 196.0,287.2 194.5,284.5 193.0,281.7 191.5,279.0 190.1,276.2 188.7,273.4 187.3,270.7 185.9,267.9 184.5,265.1 183.2,262.3 181.9,259.4 180.7,256.6 179.5,253.8 178.3,250.9 177.2,248.0 176.1,245.2 175.0,242.3 174.0,239.4 173.1,236.5 172.2,233.5 171.4,230.6 170.6,227.6 169.9,224.7 169.3,221.7 168.7,218.7 168.3,215.7 167.8,212.7 167.5,209.7 167.2,206.7 167.0,203.7 166.9,200.6 166.9,197.6 167.0,194.6 167.1,191.6 167.4,188.6 167.7,185.6 168.2,182.6 168.7,179.6 169.4,176.6 170.2,173.6 171.0,170.7 172.0,167.8 173.1,164.9 174.2,162.1 175.5,159.2 176.9,156.5 178.4,153.7 180.1,151.0 181.8,148.4 183.7,145.8 185.6,143.3 187.7,140.8 189.9,138.5 192.2,136.1 194.5,133.9 197.0,131.7 199.6,129.7 202.3,127.7 205.1,125.8 208.0,124.0 210.9,122.3 214.0,120.8 217.1,119.3 220.3,117.9 223.5,116.7 226.8,115.6 230.2,114.6 233.6,113.7 237.0,113.0 240.5,112.4 244.0,111.9 247.6,111.6 251.1,111.4 254.7,111.3 258.2,111.4 261.8,111.6 265.3,111.9 268.8,112.4 272.3,113.0 275.8,113.7 279.2,114.6 282.5,115.6 285.9,116.7 289.1,117.9 292.3,119.3 295.4,120.8 298.4,122.3 301.4,124.0 304.3,125.8 307.0,127.7 309.7,129.7 312.3,131.7 314.8,133.9 317.2,136.1 319.5,138.5 321.7,140.8 323.7,143.3 325.7,145.8 327.5,148.4 329.3,151.0 330.9,153.7 332.4,156.5 333.8,159.2 335.1,162.1 336.3,164.9 337.4,167.8 338.4,170.7 339.2,173.6 340.0,176.6 340.6,179.6 341.2,182.6 341.6,185.6 342.0,188.6 342.2,191.6 342.4,194.6 342.5,197.6 342.4,200.6 342.3,203.7 342.1,206.7 341.9,209.7 341.5,212.7 341.1,215.7 340.6,218.7 340.0,221.7 339.4,224.7 338.7,227.6 338.0,230.6 337.1,233.5 336.3,236.5 335.3,239.4 334.3,242.3 333.3,245.2 332.2,248.0 331.1,250.9 329.9,253.8 328.7,256.6 327.4,259.4 326.2,262.3 324.8,265.1 323.5,267.9 322.1,270.7 320.7,273.4 319.3,276.2 317.8,279.0 316.3,281.7 314.8,284.5 313.3,287.2 311.8,289.9 310.3,292.7 308.7,295.4 307.2,298.1 305.6,300.8 304.1,303.5 302.5,306.3"/>
<polyline points="206.9,306.2 205.2,303.6 203.5,300.9 201.8,298.3 200.1,295.6 198.4,292.9 196.8,290.3 195.1,287.6 193.5,284.9 191.9,282.2 190.3,279.5 188.7,276.8 187.1,274.1 185.6,271.3 184.1,268.6 182.6,265.9 181.2,263.1 179.8,260.3 178.4,257.5 177.0,254.7 175.7,251.9 174.5,249.1 173.3,246.3 172.1,243.4 171.0,240.5 169.9,237.6 168.9,234.7 167.9,231.8 167.1,228.9 166.2,226.0 165.5,223.0 164.8,220.0 164.1,217.1 163.6,214.1 163.1,211.1 162.7,208.1 162.4,205.1 162.2,202.0 162.0,199.0 162.0,196.0 162.0,193.0 162.2,190.0 162.4,186.9 162.7,183.9 163.2,180.9 163.7,177.9 164.3,175.0 165.1,172.0 166.0,169.1 166.9,166.2 168.0,163.3 169.2,160.4 170.5,157.6 172.0,154.9 173.5,152.1 175.2,149.5 176.9,146.9 178.8,144.3 180.8,141.8 182.9,139.4 185.2,137.0 187.5,134.7 189.9,132.5 192.5,130.4 195.1,128.4 197.9,126.5 200.7,124.6 203.6,122.9 206.6,121.3 209.7,119.8 212.9,118.4 216.1,117.1 219.4,116.0 222.8,115.0 226.2,114.1 229.6,113.4 233.1,112.7 236.6,112.3 240.1,111.9 243.7,111.7 247.2,111.6 250.8,111.7 254.4,111.9 257.9,112.3 261.4,112.7 264.9,113.4 268.3,114.1 271.7,115.0 275.1,116.0 278.4,117.1 281.6,118.4 284.8,119.8 287.9,121.3 290.9,122.9 293.8,124.6 296.6,126.5 299.4,128.4 302.0,130.4 304.6,132.5 307.0,134.7 309.3,137.0 311.6,139.4 313.7,141.8 315.7,144.3 317.6,146.9 319.3,149.5 321.0,152.1 322.5,154.9 324.0,157.6 325.3,160.4 326.5,163.3 327.6,166.2 328.5,169.1 329.4,172.0 330.2,175.0 330.8,177.9 331.3,180.9 331.8,183.9 332.1,186.9 332.3,190.0 332.5,193.0 332.5,196.0 332.5,199.0 332.3,202.0 332.1,205.1 331.8,208.1 331.4,211.1 330.9,214.1 330.4,217.1 329.7,220.0 329.0,223.0 328.3,226.0 327.4,228.9 326.5,231.8 325.6,234.7 324.6,237.6 323.5,240.5 322.4,243.4 321.2,246.3 320.0,249.1 318.8,251.9 317.5,254.7 316.1,257.5 314.7,260.3 313.3,263.1 311.9,265.9 310.4,268.6 308.9,271.3 307.3,274.1 305.8,276.8 304.2,279.5 302.6,282.2 301.0,284.9 299.4,287.6 297.7,290.3 296.0,292.9 294.4,295.6 292.7,298.3 291.0,300.9 289.3,303.6 287.6,306.3"/>
<polyline points="206.9,306.2 205.1,303.6 203.2,301.0 201.4,298.4 199.7,295.8 197.9,293.2 196.1,290.6 194.3,288.0 192.6,285.3 190.8,282.7 189.1,280.0 187.4,277.4 185.7,274.7 184.1,272.0 182.5,269.4 180.9,266.7 179.3,263.9 177.8,261.2 176.3,258.5 174.8,255.7 173.4,252.9 172.0,250.2 170.7,247.4 169.4,244.5 168.1,241.7 166.9,238.8 165.8,236.0 164.7,233.1 163.7,230.2 162.8,227.3 161.9,224.4 161.1,221.4 160.3,218.5 159.7,215.5 159.1,212.5 158.5,209.5 158.1,206.5 157.8,203.5 157.5,200.5 157.3,197.5 157.3,194.5 157.3,191.4 157.4,188.4 157.6,185.4 157.9,182.4 158.4,179.4 158.9,176.4 159.6,173.4 160.3,170.5 161.2,167.5 162.2,164.6 163.3,161.8 164.5,158.9 165.9,156.1 167.3,153.4 168.9,150.7 170.6,148.0 172.4,145.4 174.4,142.9 176.4,140.4 178.6,138.0 180.9,135.7 183.2,133.4 185.7,131.3 188.3,129.2 191.0,127.3 193.8,125.4 196.7,123.6 199.7,122.0 202.8,120.5 205.9,119.0 209.2,117.8 212.4,116.6 215.8,115.5 219.2,114.6 222.6,113.9 226.1,113.2 229.6,112.7 233.1,112.4 236.7,112.2 240.2,112.1 243.8,112.2 247.3,112.4 250.9,112.7 254.4,113.2 257.9,113.9 261.3,114.6 264.7,115.5 268.0,116.6 271.3,117.8 274.5,119.0 277.7,120.5 280.8,122.0 283.7,123.6 286.6,125.4 289.4,127.3 292.1,129.2 294.7,131.3 297.2,133.4 299.6,135.7 301.9,138.0 304.1,140.4 306.1,142.9 308.1,145.4 309.9,148.0 311.6,150.7 313.2,153.4 314.6,156.1 316.0,158.9 317.2,161.8 318.3,164.6 319.3,167.5 320.2,170.5 320.9,173.4 321.6,176.4 322.1,179.4 322.5,182.4 322.9,185.4 323.1,188.4 323.2,191.4 323.2,194.5 323.2,197.5 323.0,200.5 322.7,203.5 322.4,206.5 321.9,209.5 321.4,212.5 320.8,215.5 320.2,218.5 319.4,221.4 318.6,224.4 317.7,227.3 316.8,230.2 315.7,233.1 314.7,236.0 313.5,238.8 312.4,241.7 311.1,244.5 309.8,247.4 308.5,250.2 307.1,252.9 305.7,255.7 304.2,258.5 302.7,261.2 301.2,263.9 299.6,266.7 298.0,269.4 296.4,272.0 294.7,274.7 293.1,277.4 291.4,280.0 289.7,282.7 287.9,285.3 286.2,288.0 284.4,290.6 282.6,293.2 280.8,295.8 279.0,298.4 277.2,301.0 275.4,303.6 273.6,306.3"/>
<polyline points="206.9,306.2 204.9,303.7 203.0,301.2 201.1,298.6 199.2,296.0 197.3,293.5 195.4,290.9 193.6,288.3 191.7,285.8 189.9,283.2 188.0,280.6 186.2,278.0 184.4,275.4 182.7,272.7 181.0,270.1 179.2,267.5 177.6,264.8 175.9,262.1 174.3,259.4 172.7,256.7 171.2,254.0 169.7,251.2 168.3,248.5 166.9,245.7 165.5,242.9 164.2,240.1 163.0,237.2 161.8,234.4 160.6,231.5 159.6,228.6 158.6,225.7 157.6,222.8 156.8,219.9 156.0,216.9 155.3,214.0 154.7,211.0 154.1,208.0 153.6,205.0 153.3,202.0 153.0,199.0 152.8,196.0 152.7,193.0 152.7,189.9 152.9,186.9 153.1,183.9 153.4,180.9 153.8,177.9 154.4,174.9 155.1,171.9 155.8,169.0 156.7,166.1 157.7,163.2 158.9,160.3 160.1,157.5 161.5,154.7 163.0,151.9 164.7,149.2 166.4,146.6 168.3,144.0 170.3,141.5 172.4,139.1 174.6,136.7 176.9,134.5 179.4,132.3 182.0,130.2 184.6,128.2 187.4,126.3 190.3,124.5 193.2,122.8 196.3,121.2 199.4,119.8 202.6,118.5 205.9,117.3 209.2,116.2 212.6,115.3 216.0,114.5 219.5,113.9 223.0,113.4 226.5,113.0 230.1,112.8 233.6,112.7 237.2,112.8 240.7,113.0 244.3,113.4 247.8,113.9 251.3,114.5 254.7,115.3 258.1,116.2 261.4,117.3 264.7,118.5 267.9,119.8 271.0,121.2 274.1,122.8 277.0,124.5 279.9,126.3 282.6,128.2 285.3,130.2 287.9,132.3 290.3,134.5 292.7,136.7 294.9,139.1 297.0,141.5 299.0,144.0 300.9,146.6 302.6,149.2 304.2,151.9 305.7,154.7 307.1,157.5 308.4,160.3 309.5,163.2 310.5,166.1 311.4,169.0 312.2,171.9 312.9,174.9 313.4,177.9 313.9,180.9 314.2,183.9 314.4,186.9 314.5,189.9 314.5,193.0 314.5,196.0 314.3,199.0 314.0,202.0 313.6,205.0 313.2,208.0 312.6,211.0 312.0,214.0 311.3,216.9 310.5,219.9 309.6,222.8 308.7,225.7 307.7,228.6 306.6,231.5 305.5,234.4 304.3,237.2 303.1,240.1 301.8,242.9 300.4,245.7 299.0,248.5 297.6,251.2 296.1,254.0 294.5,256.7 293.0,259.4 291.4,262.1 289.7,264.8 288.0,267.5 286.3,270.1 284.6,272.7 282.8,275.4 281.0,278.0 279.2,280.6 277.4,283.2 275.6,285.8 273.7,288.3 271.8,290.9 269.9,293.5 268.0,296.0 266.1,298.6 264.2,301.2 262.3,303.7 260.4,306.3"/>
<polyline points="206.9,306.2 204.8,303.8 202.8,301.3 200.8,298.8 198.8,296.3 196.8,293.8 194.9,291.3 192.9,288.7 190.9,286.2 189.0,283.7 187.0,281.1 185.1,278.6 183.3,276.0 181.4,273.4 179.6,270.9 177.7,268.3 176.0,265.6 174.2,263.0 172.5,260.4 170.8,257.7 169.2,255.0 167.6,252.3 166.0,249.6 164.5,246.8 163.1,244.1 161.7,241.3 160.3,238.5 159.0,235.7 157.8,232.9 156.6,230.0 155.5,227.1 154.4,224.2 153.5,221.3 152.6,218.4 151.8,215.5 151.0,212.5 150.4,209.5 149.8,206.6 149.3,203.6 148.9,200.6 148.7,197.5 148.5,194.5 148.4,191.5 148.4,188.5 148.5,185.5 148.7,182.4 149.1,179.4 149.5,176.4 150.1,173.4 150.8,170.5 151.6,167.5 152.5,164.6 153.6,161.7 154.8,158.9 156.1,156.1 157.5,153.3 159.1,150.6 160.7,147.9 162.6,145.3 164.5,142.8 166.5,140.3 168.7,137.9 171.0,135.6 173.4,133.4 175.9,131.2 178.6,129.2 181.3,127.3 184.1,125.4 187.1,123.7 190.1,122.1 193.2,120.7 196.4,119.3 199.6,118.1 203.0,117.0 206.3,116.1 209.8,115.3 213.3,114.6 216.8,114.1 220.3,113.7 223.8,113.5 227.4,113.4 230.9,113.5 234.5,113.7 238.0,114.1 241.5,114.6 245.0,115.3 248.4,116.1 251.8,117.0 255.1,118.1 258.4,119.3 261.6,120.7 264.7,122.1 267.7,123.7 270.6,125.4 273.5,127.3 276.2,129.2 278.8,131.2 281.4,133.4 283.8,135.6 286.1,137.9 288.2,140.3 290.3,142.8 292.2,145.3 294.0,147.9 295.7,150.6 297.3,153.3 298.7,156.1 300.0,158.9 301.2,161.7 302.2,164.6 303.2,167.5 304.0,170.5 304.7,173.4 305.2,176.4 305.7,179.4 306.0,182.4 306.3,185.5 306.4,188.5 306.4,191.5 306.3,194.5 306.1,197.5 305.8,200.6 305.4,203.6 305.0,206.6 304.4,209.5 303.8,212.5 303.0,215.5 302.2,218.4 301.3,221.3 300.3,224.2 299.3,227.1 298.2,230.0 297.0,232.9 295.8,235.7 294.5,238.5 293.1,241.3 291.7,244.1 290.3,246.8 288.8,249.6 287.2,252.3 285.6,255.0 284.0,257.7 282.3,260.4 280.6,263.0 278.8,265.6 277.0,268.3 275.2,270.9 273.4,273.4 271.5,276.0 269.6,278.6 267.7,281.1 265.8,283.7 263.9,286.2 261.9,288.7 259.9,291.3 257.9,293.8 256.0,296.3 254.0,298.8 251.9,301.3 249.9,303.8 247.9,306.3"/>
<polyline points="206.9,306.2 204.8,303.8 202.7,301.4 200.6,298.9 198.5,296.5 196.4,294.0 194.3,291.6 192.2,289.1 190.2,286.6 188.1,284.2 186.1,281.7 184.1,279.2 182.1,276.7 180.2,274.1 178.3,271.6 176.3,269.1 174.5,266.5 172.6,263.9 170.8,261.3 169.0,258.7 167.3,256.0 165.6,253.4 164.0,250.7 162.4,248.0 160.8,245.3 159.3,242.5 157.8,239.8 156.4,237.0 155.1,234.2 153.8,231.4 152.6,228.5 151.5,225.7 150.4,222.8 149.4,219.9 148.5,217.0 147.7,214.0 146.9,211.1 146.2,208.1 145.6,205.1 145.2,202.1 144.8,199.1 144.5,196.1 144.3,193.1 144.2,190.1 144.2,187.0 144.4,184.0 144.6,181.0 145.0,178.0 145.5,175.0 146.1,172.0 146.8,169.1 147.6,166.1 148.6,163.2 149.7,160.3 150.9,157.5 152.3,154.7 153.8,152.0 155.4,149.3 157.2,146.6 159.0,144.1 161.0,141.6 163.1,139.1 165.4,136.8 167.8,134.5 170.2,132.4 172.8,130.3 175.5,128.3 178.3,126.5 181.3,124.7 184.3,123.1 187.3,121.6 190.5,120.3 193.8,119.0 197.1,117.9 200.5,117.0 203.9,116.1 207.3,115.5 210.8,114.9 214.4,114.6 217.9,114.3 221.5,114.3 225.0,114.3 228.6,114.6 232.1,114.9 235.6,115.5 239.1,116.1 242.5,117.0 245.9,117.9 249.2,119.0 252.4,120.3 255.6,121.6 258.7,123.1 261.7,124.7 264.6,126.5 267.4,128.3 270.1,130.3 272.7,132.4 275.2,134.5 277.6,136.8 279.8,139.1 281.9,141.6 283.9,144.1 285.8,146.6 287.6,149.3 289.2,152.0 290.7,154.7 292.0,157.5 293.2,160.3 294.4,163.2 295.3,166.1 296.2,169.1 296.9,172.0 297.5,175.0 298.0,178.0 298.3,181.0 298.6,184.0 298.7,187.0 298.8,190.1 298.7,193.1 298.5,196.1 298.2,199.1 297.8,202.1 297.3,205.1 296.7,208.1 296.1,211.1 295.3,214.0 294.5,217.0 293.6,219.9 292.6,222.8 291.5,225.7 290.3,228.5 289.1,231.4 287.9,234.2 286.5,237.0 285.1,239.8 283.7,242.5 282.2,245.3 280.6,248.0 279.0,250.7 277.4,253.4 275.7,256.0 273.9,258.7 272.1,261.3 270.3,263.9 268.5,266.5 266.6,269.1 264.7,271.6 262.8,274.1 260.8,276.7 258.8,279.2 256.8,281.7 254.8,284.2 252.8,286.6 250.7,289.1 248.7,291.6 246.6,294.0 244.5,296.5 242.4,298.9 240.3,301.4 238.2,303.8 236.1,306.3"/>
<polyline points="206.9,306.2 204.7,303.9 202.5,301.5 200.3,299.1 198.1,296.7 196.0,294.3 193.8,291.9 191.6,289.5 189.5,287.1 187.4,284.7 185.3,282.2 183.2,279.8 181.1,277.3 179.1,274.8 177.1,272.3 175.1,269.8 173.1,267.3 171.2,264.8 169.3,262.2 167.4,259.7 165.6,257.1 163.8,254.4 162.0,251.8 160.3,249.2 158.7,246.5 157.1,243.8 155.5,241.1 154.0,238.3 152.6,235.5 151.2,232.7 149.9,229.9 148.7,227.1 147.5,224.2 146.4,221.4 145.4,218.5 144.5,215.6 143.6,212.6 142.9,209.7 142.2,206.7 141.6,203.7 141.1,200.7 140.7,197.7 140.5,194.7 140.3,191.7 140.2,188.7 140.3,185.6 140.4,182.6 140.7,179.6 141.1,176.6 141.6,173.6 142.3,170.6 143.0,167.7 143.9,164.8 144.9,161.9 146.1,159.0 147.4,156.2 148.8,153.4 150.4,150.7 152.0,148.0 153.9,145.4 155.8,142.9 157.9,140.4 160.1,138.1 162.4,135.8 164.9,133.6 167.4,131.5 170.1,129.5 172.9,127.6 175.7,125.8 178.7,124.2 181.8,122.7 185.0,121.3 188.2,120.0 191.5,118.9 194.9,117.9 198.3,117.1 201.7,116.4 205.2,115.8 208.8,115.4 212.3,115.2 215.9,115.1 219.4,115.2 223.0,115.4 226.5,115.8 230.0,116.4 233.5,117.1 236.9,117.9 240.3,118.9 243.6,120.0 246.8,121.3 250.0,122.7 253.0,124.2 256.0,125.8 258.9,127.6 261.7,129.5 264.3,131.5 266.9,133.6 269.3,135.8 271.7,138.1 273.9,140.4 275.9,142.9 277.9,145.4 279.7,148.0 281.4,150.7 282.9,153.4 284.4,156.2 285.7,159.0 286.8,161.9 287.8,164.8 288.7,167.7 289.5,170.6 290.1,173.6 290.7,176.6 291.1,179.6 291.3,182.6 291.5,185.6 291.5,188.7 291.5,191.7 291.3,194.7 291.0,197.7 290.6,200.7 290.1,203.7 289.6,206.7 288.9,209.7 288.1,212.6 287.3,215.6 286.3,218.5 285.3,221.4 284.2,224.2 283.1,227.1 281.8,229.9 280.5,232.7 279.1,235.5 277.7,238.3 276.2,241.1 274.7,243.8 273.1,246.5 271.4,249.2 269.7,251.8 268.0,254.4 266.2,257.1 264.4,259.7 262.5,262.2 260.6,264.8 258.7,267.3 256.7,269.8 254.7,272.3 252.7,274.8 250.6,277.3 248.6,279.8 246.5,282.2 244.4,284.7 242.3,287.1 240.1,289.5 238.0,291.9 235.8,294.3 233.6,296.7 231.5,299.1 229.3,301.5 227.1,303.9 224.9,306.3"/>
<polyline points="206.9,306.2 204.6,303.9 202.3,301.6 200.1,299.3 197.8,296.9 195.6,294.6 193.3,292.2 191.1,289.9 188.9,287.5 186.7,285.1 184.5,282.7 182.3,280.3 180.2,277.9 178.0,275.5 175.9,273.1 173.9,270.6 171.8,268.1 169.8,265.7 167.8,263.1 165.9,260.6 163.9,258.1 162.1,255.5 160.2,252.9 158.5,250.3 156.7,247.7 155.0,245.0 153.4,242.3 151.8,239.6 150.3,236.9 148.8,234.1 147.4,231.3 146.1,228.5 144.9,225.7 143.7,222.8 142.6,220.0 141.5,217.1 140.6,214.2 139.7,211.2 139.0,208.3 138.3,205.3 137.7,202.3 137.2,199.3 136.9,196.3 136.6,193.3 136.4,190.3 136.4,187.3 136.5,184.2 136.7,181.2 137.0,178.2 137.4,175.2 138.0,172.2 138.7,169.3 139.5,166.3 140.4,163.4 141.5,160.5 142.7,157.7 144.1,154.9 145.6,152.1 147.2,149.5 149.0,146.8 150.9,144.3 152.9,141.8 155.1,139.4 157.3,137.1 159.7,134.8 162.3,132.7 164.9,130.7 167.7,128.8 170.5,127.0 173.5,125.3 176.5,123.7 179.7,122.3 182.9,121.0 186.2,119.9 189.6,118.9 193.0,118.0 196.4,117.3 199.9,116.8 203.5,116.4 207.0,116.2 210.6,116.1 214.1,116.2 217.7,116.4 221.2,116.8 224.7,117.3 228.2,118.0 231.6,118.9 234.9,119.9 238.2,121.0 241.4,122.3 244.6,123.7 247.6,125.3 250.6,127.0 253.5,128.8 256.2,130.7 258.9,132.7 261.4,134.8 263.8,137.1 266.1,139.4 268.2,141.8 270.2,144.3 272.1,146.8 273.9,149.5 275.5,152.1 277.0,154.9 278.4,157.7 279.6,160.5 280.7,163.4 281.6,166.3 282.5,169.3 283.1,172.2 283.7,175.2 284.1,178.2 284.5,181.2 284.6,184.2 284.7,187.3 284.7,190.3 284.5,193.3 284.3,196.3 283.9,199.3 283.4,202.3 282.8,205.3 282.2,208.3 281.4,211.2 280.5,214.2 279.6,217.1 278.6,220.0 277.5,222.8 276.3,225.7 275.0,228.5 273.7,231.3 272.3,234.1 270.8,236.9 269.3,239.6 267.7,242.3 266.1,245.0 264.4,247.7 262.7,250.3 260.9,252.9 259.0,255.5 257.2,258.1 255.3,260.6 253.3,263.1 251.3,265.7 249.3,268.1 247.3,270.6 245.2,273.1 243.1,275.5 241.0,277.9 238.8,280.3 236.6,282.7 234.5,285.1 232.2,287.5 230.0,289.9 227.8,292.2 225.6,294.6 223.3,296.9 221.1,299.3 218.8,301.6 216.5,303.9 214.3,306.3"/>
</g>
<rect x="93" y="16" width="797" height="387" fill="none" stroke="#000" stroke-width="2" shape-rendering="crispEdges"/>
<path d="M94 354.6h3.5M94 306.2h3.5M94 257.9h3.5M94 209.5h3.5M94 161.1h3.5M94 112.7h3.5M94 64.4h3.5M149.9 402v-3.5M206.9 402v-3.5M263.8 402v-3.5M320.7 402v-3.5M377.6 402v-3.5M434.6 402v-3.5M491.5 402v-3.5M548.4 402v-3.5M605.4 402v-3.5M662.3 402v-3.5M719.2 402v-3.5M776.1 402v-3.5M833.1 402v-3.5" stroke="#000" stroke-width="1" fill="none" shape-rendering="crispEdges"/>
<line x1="206.9" y1="305.8" x2="777.1" y2="305.8" stroke="#000" stroke-width="2.2"/>
<!-- left arrow -->
<line x1="131" y1="307.5" x2="193" y2="307.5" stroke="#000" stroke-width="3.2"/>
<polygon points="191.4,301 204.6,307.8 191.4,314.7" fill="#000"/>
<line x1="161.3" y1="302" x2="175.7" y2="315.6" stroke="#000" stroke-width="1.2"/>
<!-- left pin -->
<polygon points="209.1,308.2 197.6,326.5 220.6,326.5" fill="#fff" stroke="#000" stroke-width="1.4"/>
<line x1="197" y1="326.6" x2="221.2" y2="326.6" stroke="#000" stroke-width="2"/>
<!-- right arrow -->
<line x1="795" y1="301.4" x2="856" y2="301.4" stroke="#000" stroke-width="3.2"/>
<polygon points="796,295.3 782.9,301.5 796,307.7" fill="#000"/>
<!-- right roller -->
<polygon points="778,307 764,326.5 793,326.5" fill="#fff" stroke="#000" stroke-width="1.4"/>
<line x1="763.2" y1="326.6" x2="793.8" y2="326.6" stroke="#000" stroke-width="2"/>
<circle cx="769" cy="332.8" r="4.8" fill="none" stroke="#000" stroke-width="1"/>
<circle cx="786.5" cy="332.8" r="5" fill="none" stroke="#000" stroke-width="1"/>
<line x1="751.6" y1="339.9" x2="805" y2="339.9" stroke="#000" stroke-width="2"/>
<g clip-path="url(#hc)" stroke="#000" stroke-width="2.3">
<line x1="723.5" y1="336" x2="745.1" y2="354"/>
<line x1="731.5" y1="336" x2="753.1" y2="354"/>
<line x1="739.5" y1="336" x2="761.1" y2="354"/>
<line x1="747.5" y1="336" x2="769.1" y2="354"/>
<line x1="755.5" y1="336" x2="777.1" y2="354"/>
<line x1="763.5" y1="336" x2="785.1" y2="354"/>
<line x1="771.5" y1="336" x2="793.1" y2="354"/>
<line x1="779.5" y1="336" x2="801.1" y2="354"/>
<line x1="787.5" y1="336" x2="809.1" y2="354"/>
<line x1="795.5" y1="336" x2="817.1" y2="354"/>
<line x1="803.5" y1="336" x2="825.1" y2="354"/>
<line x1="811.5" y1="336" x2="833.1" y2="354"/>
</g>
<g>
<text x="82.6" y="407.0" text-anchor="end">-0.2</text>
<text x="82.6" y="358.6" text-anchor="end">-0.1</text>
<text x="82.6" y="310.2" text-anchor="end">0</text>
<text x="82.6" y="261.9" text-anchor="end">0.1</text>
<text x="82.6" y="213.5" text-anchor="end">0.2</text>
<text x="82.6" y="165.1" text-anchor="end">0.3</text>
<text x="82.6" y="116.7" text-anchor="end">0.4</text>
<text x="82.6" y="68.4" text-anchor="end">0.5</text>
<text x="82.6" y="20.0" text-anchor="end">0.6</text>
<text x="93.0" y="427" text-anchor="middle">-0.2</text>
<text x="149.9" y="427" text-anchor="middle">-0.1</text>
<text x="206.9" y="427" text-anchor="middle">0</text>
<text x="263.8" y="427" text-anchor="middle">0.1</text>
<text x="320.7" y="427" text-anchor="middle">0.2</text>
<text x="377.6" y="427" text-anchor="middle">0.3</text>
<text x="434.6" y="427" text-anchor="middle">0.4</text>
<text x="491.5" y="427" text-anchor="middle">0.5</text>
<text x="548.4" y="427" text-anchor="middle">0.6</text>
<text x="605.4" y="427" text-anchor="middle">0.7</text>
<text x="662.3" y="427" text-anchor="middle">0.8</text>
<text x="719.2" y="427" text-anchor="middle">0.9</text>
<text x="776.1" y="427" text-anchor="middle">1</text>
<text x="833.1" y="427" text-anchor="middle">1.1</text>
<text x="890.0" y="427" text-anchor="middle">1.2</text>
<text x="491.4" y="450" text-anchor="middle">x/L</text>
<text transform="translate(41.2,208.5) rotate(-90)" text-anchor="middle">y/L</text>
</g>
</svg>
</body></html>
